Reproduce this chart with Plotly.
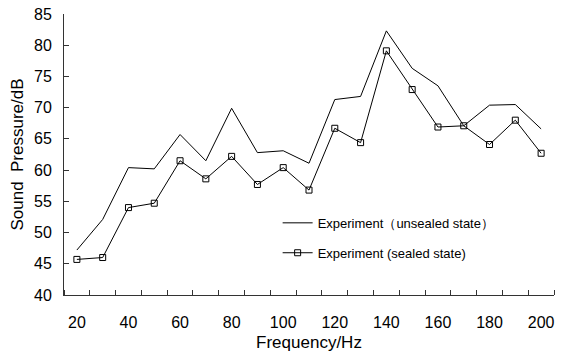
import plotly.graph_objects as go

# Frequency bands (Hz)
frequency = [20, 30, 40, 50, 60, 70, 80, 90, 100, 110,
             120, 130, 140, 150, 160, 170, 180, 190, 200]

# Measured sound pressure level (dB)
unsealed = [47.2, 52.1, 60.4, 60.2, 65.7, 61.5, 69.9, 62.8, 63.1, 61.1,
            71.3, 71.8, 82.3, 76.3, 73.5, 67.1, 70.4, 70.5, 66.6]
sealed = [45.7, 46.0, 54.0, 54.7, 61.5, 58.6, 62.2, 57.7, 60.4, 56.8,
          66.7, 64.4, 79.1, 72.9, 66.9, 67.1, 64.1, 68.0, 62.7]

x_labels = [20, 40, 60, 80, 100, 120, 140, 160, 180, 200]
y_ticks = [40, 45, 50, 55, 60, 65, 70, 75, 80, 85]

FONT = "Arial, Liberation Sans, sans-serif"

fig = go.Figure()
fig.add_trace(go.Scatter(
    x=frequency, y=unsealed, mode="lines",
    name="Experiment（unsealed state）",
    legendgroup="a",
    line=dict(color="black", width=1),
))
fig.add_trace(go.Scatter(
    x=frequency, y=sealed, mode="lines+markers",
    name="Experiment (sealed state)",
    legendgroup="b",
    line=dict(color="black", width=1),
    marker=dict(symbol="square-open", size=6, color="black",
                line=dict(color="black", width=1)),
))

fig.update_layout(
    width=568, height=352,
    margin=dict(l=64, r=14, t=14, b=57),
    paper_bgcolor="white", plot_bgcolor="white",
    font=dict(family=FONT, color="black", size=16),
    showlegend=True,
    legend=dict(
        x=0.436, y=0.31, xanchor="left", yanchor="top",
        font=dict(size=13, family=FONT),
        bgcolor="rgba(0,0,0,0)",
        tracegroupgap=10,
        traceorder="grouped",
    ),
)

fig.update_xaxes(
    range=[15, 205], automargin=False,
    tickmode="array", tickvals=x_labels, ticktext=[str(v) for v in x_labels],
    ticks="", ticklabelstandoff=13,
    minor=dict(tick0=15, dtick=10, ticks="inside", ticklen=5,
               tickcolor="#333", tickwidth=1),
    showline=True, linecolor="#333", linewidth=1,
    showgrid=False, zeroline=False,
    title=dict(text="Frequency/Hz", font=dict(size=17), standoff=5),
)
fig.update_yaxes(
    range=[40, 85], automargin=False,
    tickmode="array", tickvals=y_ticks,
    ticks="inside", ticklen=5, tickcolor="#333", tickwidth=1,
    ticklabelstandoff=8,
    showline=True, linecolor="#333", linewidth=1,
    showgrid=False, zeroline=False,
    title=dict(text="Sound  Pressure/dB", font=dict(size=17), standoff=6),
)

fig.write_html("out.html")
